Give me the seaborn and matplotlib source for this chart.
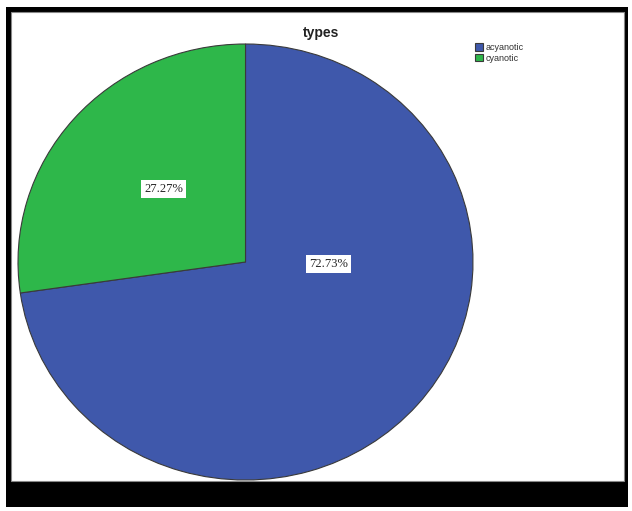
import matplotlib
matplotlib.use("Agg")
import matplotlib.pyplot as plt
import seaborn as sns
from matplotlib.patches import Rectangle

# data
types = ["acyanotic", "cyanotic"]
percent = [72.73, 27.27]
colors = ["#3F58AB", "#2EB74A"]

sns.set_style("white")
plt.rcParams['font.family'] = ['Liberation Sans', 'DejaVu Sans']

W, H = 632, 511
fig = plt.figure(figsize=(W / 100, H / 100), dpi=100)
fig.patch.set_facecolor("white")

def px(x0, y0, x1, y1):
    # pixel box (top-left origin) -> figure fraction rect
    return (x0 / W, 1 - y1 / H), (x1 - x0) / W, (y1 - y0) / H

# outer frame, white panel and bottom bar (behind the axes)
xy, w, h = px(6, 7, 628, 507)
fig.patches.append(Rectangle(xy, w, h, transform=fig.transFigure, facecolor="black",
                             edgecolor="none", zorder=-2))
xy, w, h = px(11, 12, 624, 481)
fig.patches.append(Rectangle(xy, w, h, transform=fig.transFigure, facecolor="white",
                             edgecolor="#888888", linewidth=0.8, zorder=-1))

# pie axes
xy, w, h = px(18, 44, 473, 480)
ax = fig.add_axes([xy[0], xy[1], w, h])
ax.patch.set_visible(False)
wedges, _ = ax.pie(percent, colors=colors, startangle=90, counterclock=False,
                   wedgeprops=dict(edgecolor="#3a3a3a", linewidth=0.8))
ax.set_aspect("auto")
ax.set_xlim(-1.0, 1.0)
ax.set_ylim(-1.0, 1.0)
ax.axis("off")

box = dict(boxstyle="square,pad=0.25", facecolor="white", edgecolor="none")
label_pos = [(0.366, -0.01), (-0.36, 0.335)]
for (lx, ly), p in zip(label_pos, percent):
    ax.text(lx, ly, f"{p:.2f}%", ha="center", va="center", fontsize=9,
            family="Liberation Serif", bbox=box)

fig.text(321 / W, 1 - 33 / H, "types", ha="center", va="center",
         fontsize=10, fontweight="bold", color="#222222")

leg = fig.legend(wedges, types, loc="upper left", bbox_to_anchor=(475 / W, 1 - 43 / H),
                 frameon=False, fontsize=6.5, handlelength=0.9, handleheight=0.9,
                 handletextpad=0.25, labelspacing=0.2, borderaxespad=0, borderpad=0)
for t in leg.get_texts():
    t.set_color("#333333")

fig.savefig("out.png", dpi=100)
